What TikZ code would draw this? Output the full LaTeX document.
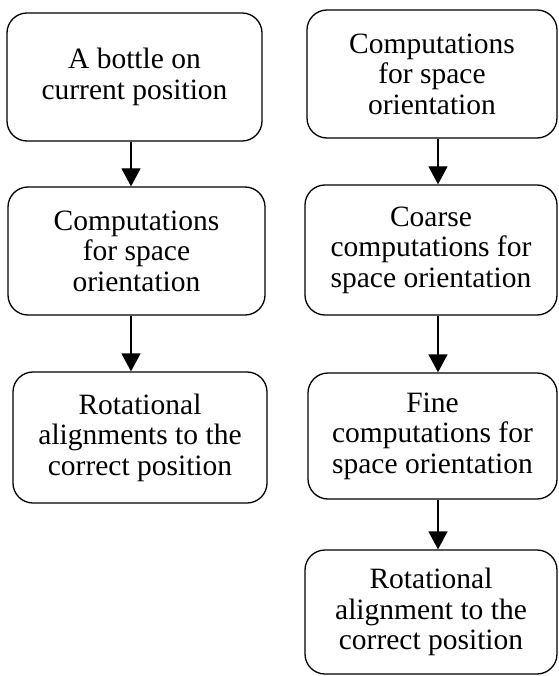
\documentclass[tikz,border=0pt]{standalone}
\usepackage{fontspec}
\setmainfont{Liberation Serif}
\usetikzlibrary{arrows.meta}

\begin{document}
\begin{tikzpicture}[x=1pt,y=-1pt]
 	\tikzstyle{every node}+=[inner sep=0pt]
 	\tikzstyle{stage}=[draw=black, line width=1.3pt, rounded corners=20pt, align=center, font=\fontsize{29.5}{30.5}\selectfont, minimum width=252pt, minimum height=128pt]
 	\tikzstyle{flow}=[black, line width=1.3pt, -{Triangle[length=18pt,width=19pt]}]
 	\useasboundingbox (0,0) rectangle (558,676);
 	\node [stage, minimum width=255pt] (l1) at (134.5,77) {A bottle on\\current position};
 	\node [stage, minimum width=257pt] (l2) at (136.5,251) {Computations\\for space\\orientation};
 	\node [stage, minimum width=254pt, minimum height=131pt] (l3) at (140,437.5) {Rotational\\alignments to the\\correct position};
 	\node [stage, minimum width=250pt] (r1) at (432,74) {Computations\\for space\\orientation};
 	\node [stage, minimum height=130pt] (r2) at (431,250) {Coarse\\computations for\\space orientation};
 	\node [stage, minimum width=249pt, minimum height=126pt] (r3) at (432.5,436) {Fine\\computations for\\space orientation};
 	\node [stage, minimum height=124pt] (r4) at (431,612) {Rotational\\alignment to the\\correct position};
 	\draw [flow] ([xshift=-3.5pt]l1.south) -- ([xshift=-3.5pt]l1.south |- l2.north);
 	\draw [flow] ([xshift=-5.5pt]l2.south) -- ([xshift=-5.5pt]l2.south |- l3.north);
 	\draw [flow] ([xshift=6pt]r1.south) -- ([xshift=6pt]r1.south |- r2.north);
 	\draw [flow] ([xshift=7pt]r2.south) -- ([xshift=7pt]r2.south |- r3.north);
 	\draw [flow] ([xshift=5.5pt]r3.south) -- ([xshift=5.5pt]r3.south |- r4.north);
\end{tikzpicture}
\end{document}
